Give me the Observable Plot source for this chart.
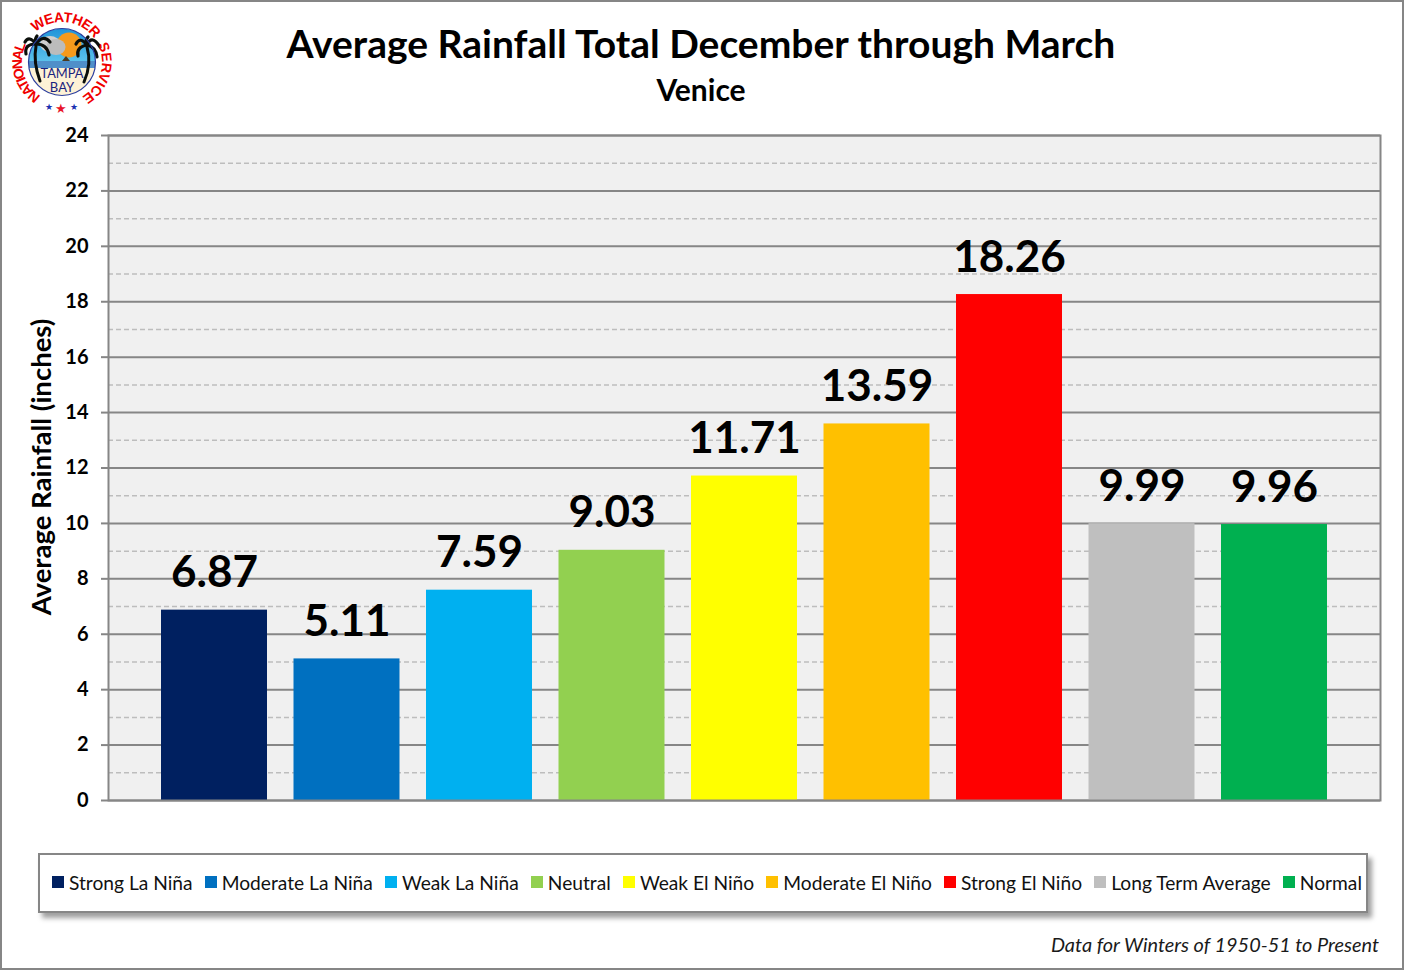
<!DOCTYPE html>
<html><head><meta charset="utf-8">
<script src="https://cdn.jsdelivr.net/npm/d3@7"></script>
<script src="https://cdn.jsdelivr.net/npm/@observablehq/plot@0.6"></script>
<style>
html,body{margin:0;padding:0;background:#fff}
#page{position:relative;width:1404px;height:970px;overflow:hidden;font-family:Lato,sans-serif;color:#000}
#border{position:absolute;inset:0;border:2px solid #868686;box-sizing:border-box;pointer-events:none}
#page svg[class^="plot"]{position:absolute;left:0;top:0}
h1,h2,#foot{position:absolute;margin:0;white-space:nowrap}
h1{left:0;width:1404px;text-align:center;top:19px;font-size:39px;line-height:48px;font-weight:700;text-indent:-2px}
h2{left:0;width:1404px;text-align:center;top:71px;font-size:30px;line-height:36px;font-weight:700;text-indent:-2px}
#foot{right:25px;top:932px;font-size:19.9px;line-height:24px;font-style:italic;color:#1a1a1a}
#legend{position:absolute;left:38px;top:853px;width:1330px;height:60px;box-sizing:border-box;border:2px solid #868686;background:#fff;box-shadow:4px 5px 5px rgba(0,0,0,.38);display:flex;align-items:center;justify-content:space-between;padding:0 4px 2px 12px;font-size:19.2px;color:#111}
#legend div{display:flex;align-items:center;white-space:nowrap}
#legend i{display:block;width:12px;height:12px;margin-right:5px}
#logo{position:absolute;left:0;top:0}
</style></head><body>
<div id="page">
<h1>Average Rainfall Total December through March</h1>
<h2>Venice</h2>
<svg id="logo" width="125" height="120" viewBox="0 0 125 120">
 <defs>
  <clipPath id="disc"><circle cx="62" cy="62" r="33.5"/></clipPath>
  <linearGradient id="sky" x1="0" y1="0" x2="0" y2="1"><stop offset="0" stop-color="#1f93d8"/><stop offset="1" stop-color="#5cc3ec"/></linearGradient>
 </defs>
 <g clip-path="url(#disc)">
  <rect x="28" y="28" width="68" height="34" fill="url(#sky)"/>
  <rect x="28" y="61" width="68" height="8" fill="#4f8fc9"/>
  <rect x="28" y="68" width="68" height="28" fill="#fdf2d6"/>
  <circle cx="69" cy="45" r="12.5" fill="#f59a1c"/>
  <ellipse cx="50" cy="44" rx="10" ry="8" fill="#cfcfcf"/><ellipse cx="56" cy="47" rx="9.5" ry="8" fill="#bcbcbc"/>
  <path d="M62 61 L66 56 L70 61 Z" fill="#4a3a20"/>
 </g>
 <g fill="none" stroke="#0b0f0b" stroke-linecap="round">
  <path d="M36 46 Q33 62 40 81" stroke-width="3"/>
  <path d="M87 47 Q92 64 84 82" stroke-width="3"/>
  <g stroke-width="3.2">
  <path d="M36 44 Q29 35 25 42"/><path d="M36 44 Q43 34 50 42"/><path d="M36 44 Q24 44 26 54"/><path d="M36 44 Q47 44 49 55"/><path d="M36 44 Q34 40 37 36"/>
  <path d="M87 45 Q80 36 76 44"/><path d="M87 45 Q92 34 100 47"/><path d="M87 45 Q76 47 78 56"/><path d="M87 45 Q96 47 97 57"/><path d="M87 45 Q85 40 88 37"/>
  </g>
 </g>
 <circle cx="62" cy="62" r="33.5" fill="none" stroke="#2b3e9e" stroke-width="1.2"/>
 <text x="62" y="78" text-anchor="middle" font-size="13" font-family="Lato" fill="#1a237e" textLength="43" lengthAdjust="spacingAndGlyphs">TAMPA</text>
 <text x="62" y="92" text-anchor="middle" font-size="13" font-family="Lato" fill="#1a237e">BAY</text>
 <g id="ringText" font-family="'Liberation Sans Narrow','Liberation Sans',Lato" font-weight="700" font-size="14" fill="#f00000"></g>
 <text x="49" y="110" text-anchor="middle" font-size="9" fill="#1a2fb0">★</text>
 <text x="61" y="113" text-anchor="middle" font-size="13" fill="#e8142a">★</text>
 <text x="74" y="110" text-anchor="middle" font-size="9" fill="#1a2fb0">★</text>
</svg>
<div id="legend"></div>
<div id="foot">Data for Winters of 1950-51 to Present</div>
<div id="border"></div>
</div>
<script>
const categories = ["Strong La Niña","Moderate La Niña","Weak La Niña","Neutral","Weak El Niño","Moderate El Niño","Strong El Niño","Long Term Average","Normal"];
const rainfall = [6.87,5.11,7.59,9.03,11.71,13.59,18.26,9.99,9.96];
const colors = ["#002060","#0070c0","#00b0f0","#92d050","#ffff00","#ffc000","#ff0000","#bfbfbf","#00b050"];
const majorTicks = [0,2,4,6,8,10,12,14,16,18,20,22,24];
const minorTicks = [1,3,5,7,9,11,13,15,17,19,21,23];
const table = categories.map((category,i)=>({category,value:rainfall[i]}));

const chart = Plot.plot({
  width:1404,height:970,
  marginLeft:108,marginRight:24,marginTop:135,marginBottom:170,
  style:{background:"transparent",fontFamily:"Lato, sans-serif",overflow:"visible"},
  x:{domain:categories,axis:null,paddingInner:0.2,paddingOuter:0.4,round:false},
  y:{domain:[0,24],axis:null},
  color:{domain:categories,range:colors},
  marks:[
    Plot.frame({fill:"#f0f0f0",stroke:null}),
    Plot.ruleY(minorTicks,{stroke:"#bdbdbd",strokeWidth:1.5,strokeDasharray:"5 3"}),
    Plot.ruleY(majorTicks,{stroke:"#868686",strokeWidth:2}),
    Plot.barY(table,{x:"category",y:"value",fill:"category"}),
    Plot.text(table,{x:"category",y:"value",text:d=>d.value.toFixed(2),dy:-37,lineAnchor:"middle",fontSize:44,fontWeight:700,fill:"#000"}),
    Plot.frame({stroke:"#868686",strokeWidth:2}),
    Plot.axisY({ticks:majorTicks,tickSize:7,tickPadding:13,tickFormat:d=>d,fontSize:20,fontWeight:700,fill:"#000",stroke:"#868686",strokeWidth:2,label:null,strokeOpacity:1}),
    Plot.text(["Average Rainfall (inches)"],{frameAnchor:"left",textAnchor:"middle",dx:-66,dy:-1,rotate:-90,fontSize:27.5,fontWeight:700,fill:"#000"})
  ]
});
document.getElementById("page").insertBefore(chart,document.getElementById("logo"));

const legend = d3.select("#legend").selectAll("div").data(categories).join("div");
legend.append("i").style("background",(d,i)=>colors[i]);
legend.append("span").text(d=>d);

// The logo's ring lettering: three arcs around the badge
const ringWords = [["NATIONAL",-148,-64],["WEATHER",-42,54],["SERVICE",64,150]];
const ringPoint = a => [62+40*Math.sin(a*Math.PI/180), 62-40*Math.cos(a*Math.PI/180)];
const ring = d3.select("#ringText");
ringWords.forEach(([word,a0,a1],i)=>{
  const [x0,y0]=ringPoint(a0),[x1,y1]=ringPoint(a1);
  d3.select("#logo defs").append("path").attr("id","arc"+i).attr("d",`M${x0} ${y0}A40 40 0 0 1 ${x1} ${y1}`);
  ring.append("text").append("textPath").attr("href","#arc"+i)
    .attr("textLength",(a1-a0)*Math.PI/180*40).attr("lengthAdjust","spacing").text(word);
});
</script>
</body></html>
